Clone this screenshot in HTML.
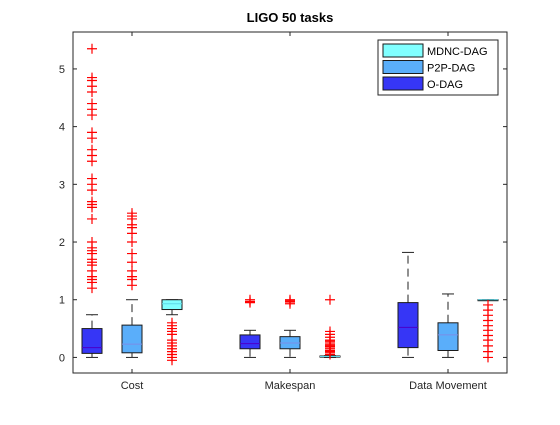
<!DOCTYPE html>
<html><head><meta charset="utf-8"><style>
body{margin:0;background:#fff;}
svg{font-family:"Liberation Sans",Arial,sans-serif;}
</style></head><body>
<svg id="chart" width="560" height="420" xmlns="http://www.w3.org/2000/svg">
<rect x="0" y="0" width="560" height="420" fill="#fff"/>
<text x="290" y="22" text-anchor="middle" font-size="13" font-weight="bold" fill="#000">LIGO 50 tasks</text>
<g id="plot"></g>
</svg>
<script>
const categories=["Cost","Makespan","Data Movement"];
const seriesNames=["O-DAG","P2P-DAG","MDNC-DAG"];
// [whiskerLow, q1, median, q3, whiskerHigh] per category per series
const oDag=[[0,0.07,0.17,0.5,0.74],[0,0.15,0.24,0.39,0.47],[0,0.17,0.52,0.95,1.82]];
const p2pDag=[[0,0.08,0.23,0.56,1.0],[0,0.15,0.25,0.36,0.47],[0,0.12,0.39,0.6,1.1]];
const mdncDag=[[0.74,0.83,0.93,1.0,1.0],[0,0.005,0.015,0.025,0.03],[1.0,1.0,1.0,1.0,1.0]];
const oDagOut=[[1.2,1.3,1.35,1.4,1.5,1.6,1.65,1.7,1.8,1.85,1.9,2.0,2.4,2.6,2.65,2.7,2.9,3.0,3.1,3.4,3.5,3.6,3.8,3.9,4.2,4.3,4.4,4.6,4.7,4.8,4.85,5.35],[0.95,0.97,1.0],[]];
const p2pDagOut=[[1.25,1.35,1.4,1.5,1.65,1.8,2.0,2.15,2.25,2.3,2.4,2.45,2.5],[0.93,0.96,0.98,1.0],[]];
const mdncDagOut=[[-0.05,0,0.05,0.1,0.15,0.2,0.25,0.3,0.4,0.45,0.5,0.55,0.6],[0.05,0.08,0.1,0.12,0.15,0.18,0.2,0.22,0.25,0.28,0.3,0.35,0.4,0.45,1.0],[0,0.1,0.2,0.3,0.38,0.47,0.55,0.64,0.73,0.82,0.91]];
const yTicks=[0,1,2,3,4,5];

const L=73,R=507,T=32,B=373;
const yMin=-0.27,yMax=5.64;
const ys=v=>B-(v-yMin)/(yMax-yMin)*(B-T);
const catX=i=>132+i*158;
const offs=[-40,0,40];
const colors=["#3636f6","#5aaefa","#80ffff"];
const medColors=["#4b00c8","#7b8de8","#5fd8e8"];
const NS="http://www.w3.org/2000/svg";
const g=document.getElementById('plot');
function mk(tag,attrs,parent){const e=document.createElementNS(NS,tag);for(const k in attrs)e.setAttribute(k,attrs[k]);(parent||g).appendChild(e);return e;}

const frame=mk('rect',{x:L,y:T,width:R-L,height:B-T,fill:'#fff',stroke:'#262626','stroke-width':1});


yTicks.forEach(t=>{
  const y=ys(t);
  const tk=mk('line',{x1:L,x2:L+4,y1:y,y2:y,stroke:'#262626'});
  
  
  mk('line',{x1:R,x2:R-4,y1:y,y2:y,stroke:'#262626'});
  const tx=mk('text',{x:L-8,y:y+4,'text-anchor':'end','font-size':11,fill:'#262626'});
  tx.textContent=t;
  
  
});
categories.forEach((c,i)=>{
  const x=catX(i);
  mk('line',{x1:x,x2:x,y1:B,y2:B-4,stroke:'#262626'});
  mk('line',{x1:x,x2:x,y1:T,y2:T+4,stroke:'#262626'});
  const tx=mk('text',{x:x,y:B+16,'text-anchor':'middle','font-size':11,fill:'#262626'});
  tx.textContent=c;
  
  
});
const stats=[oDag,p2pDag,mdncDag];
const outs=[oDagOut,p2pDagOut,mdncDagOut];
const hw=10;
stats.forEach((s,si)=>{
  s.forEach((d,ci)=>{
    const x=catX(ci)+offs[si];
    const grp=mk('g',{});
    
    
    mk('line',{x1:x,x2:x,y1:ys(d[3]),y2:ys(d[4]),stroke:'#222','stroke-dasharray':'8,5'},grp);
    mk('line',{x1:x,x2:x,y1:ys(d[1]),y2:ys(d[0]),stroke:'#222','stroke-dasharray':'8,5'},grp);
    mk('line',{x1:x-6,x2:x+6,y1:ys(d[4]),y2:ys(d[4]),stroke:'#222'},grp);
    mk('line',{x1:x-6,x2:x+6,y1:ys(d[0]),y2:ys(d[0]),stroke:'#222'},grp);
    mk('rect',{x:x-hw,y:ys(d[3]),width:2*hw,height:Math.max(1,ys(d[1])-ys(d[3])),fill:colors[si],stroke:'#1a1a1a','stroke-width':1},grp);
    mk('line',{x1:x-hw,x2:x+hw,y1:ys(d[2]),y2:ys(d[2]),stroke:medColors[si]},grp);
    outs[si][ci].forEach(v=>{
      const y=ys(v);
      const o=mk('path',{d:`M${x-5},${y}H${x+5}M${x},${y-5}V${y+5}`,stroke:'#ff0000','stroke-width':1.2,fill:'none'});
      
      
    });
  });
});
// legend
const lg=mk('g',{});


mk('rect',{x:378,y:40,width:120,height:55,fill:'#fff',stroke:'#262626'},lg);
[2,1,0].forEach((si,k)=>{
  const y=44+k*16.5;
  const e=mk('g',{},lg);
  
  
  mk('rect',{x:383,y:y,width:40,height:13,fill:colors[si],stroke:'#1a1a1a'},e);
  const t=mk('text',{x:427,y:y+11,'font-size':11,fill:'#000'},e);
  t.textContent=seriesNames[si];
});
</script>
</body></html>
